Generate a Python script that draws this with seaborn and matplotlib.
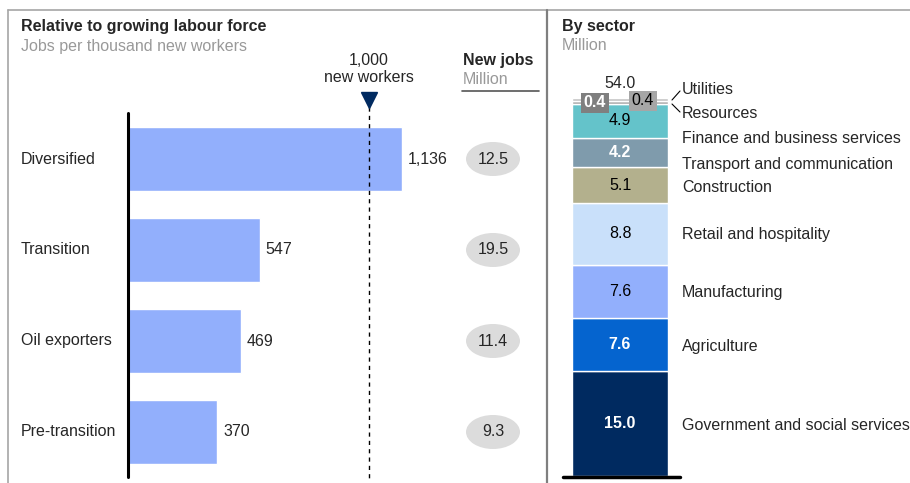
import numpy as np
import seaborn as sns
import matplotlib.pyplot as plt
import pandas as pd
from matplotlib.patches import Ellipse

groups = ['Diversified', 'Transition', 'Oil exporters', 'Pre-transition']
jobs_per_thousand = [1136, 547, 469, 370]
jobs_labels = ['1,136', '547', '469', '370']
new_jobs = [12.5, 19.5, 11.4, 9.3]

# bottom to top
sectors = ['Government and social services', 'Agriculture', 'Manufacturing',
           'Retail and hospitality', 'Construction', 'Transport and communication',
           'Finance and business services', 'Resources', 'Utilities']
sector_jobs = [15.0, 7.6, 7.6, 8.8, 5.1, 4.2, 4.9, 0.4, 0.4]
sector_colors = ['#002A60', '#0564CF', '#92AFFC', '#C9E0FA', '#B3B08D',
                 '#7F9BAC', '#64C3CA', '#A8A8A8', '#C4C4C4']
sector_label_y = [426, 347, 293, 235, 188, 164, 139, 114, 90]

sns.set_style('white')
plt.rcParams['font.family'] = ['Liberation Sans', 'DejaVu Sans']
plt.rcParams['font.size'] = 11.5

W, H = 910, 483
fig = plt.figure(figsize=(9.1, 4.83), dpi=100)

def box(x0, y0, x1, y1):
    return [x0 / W, 1 - y1 / H, (x1 - x0) / W, (y1 - y0) / H]

gray = '#999999'
navy = '#002A60'

# ---- left panel: jobs per thousand new workers
pxu = 0.241   # pixels per job unit
row = 91.0    # pixels per row
x0px, y0px = 128, 159
def lx(px): return (px - x0px) / pxu
def ly(py): return (py - y0px) / row

ax = fig.add_axes(box(8, 10, 547, 483))
df = pd.DataFrame({'group': groups, 'value': jobs_per_thousand})
sns.barplot(data=df, x='value', y='group', orient='h', color='#92AFFC',
            saturation=1, width=64 / row, ax=ax)
ax.set_xlim(lx(8), lx(547))
ax.set_ylim(ly(483), ly(10))
ax.axis('off')

ax.plot([0, 0], [ly(113), ly(477)], color='black', lw=2.2, solid_capstyle='round')
ax.plot([1000, 1000], [ly(107), ly(478)], color='black', lw=1, ls=(0, (3, 3)))
ax.plot([1000], [ly(100)], marker='v', ms=11, color=navy)
ax.text(1000, ly(69), '1,000\nnew workers', ha='center', va='center', linespacing=1.1)

for i, (v, lab, nj) in enumerate(zip(jobs_per_thousand, jobs_labels, new_jobs)):
    ax.text(lx(21), i, groups[i], ha='left', va='center')
    ax.text(v + 6 / pxu, i, lab, ha='left', va='center')
    ax.add_patch(Ellipse((lx(493), i), 54 / pxu, 34 / row, color='#DCDCDC', lw=0))
    ax.text(lx(493), i, f'{nj:.1f}', ha='center', va='center')

ax.text(lx(463), ly(60), 'New jobs', fontweight='bold', ha='left', va='center')
ax.text(lx(463), ly(79), 'Million', color=gray, ha='left', va='center')
ax.plot([lx(462), lx(539)], [ly(91), ly(91)], color='#555555', lw=1.2)

# ---- right panel: by sector
ppu = 7.0
def rx(px): return (px - 620) / 96
def ry(py): return (476 - py) / ppu

axr = fig.add_axes(box(547, 10, 910, 483))
bottoms = np.concatenate([[0], np.cumsum(sector_jobs)[:-1]])
axr.bar(0, sector_jobs, bottom=bottoms, width=1, color=sector_colors,
        edgecolor='white', linewidth=1)
axr.set_xlim(rx(547), rx(910))
axr.set_ylim(ry(483), ry(10))
axr.axis('off')
axr.plot([rx(563), rx(680)], [ry(477), ry(477)], color='black', lw=2.5,
         solid_capstyle='round')

white_lab = {'Government and social services', 'Agriculture', 'Transport and communication'}
for s, v, b in zip(sectors[:7], sector_jobs[:7], bottoms[:7]):
    w = s in white_lab
    axr.text(0, b + v / 2, f'{v:.1f}', ha='center', va='center',
             color='white' if w else 'black', fontweight='bold' if w else 'normal')

axr.text(rx(595), ry(103), f'{sector_jobs[7]:.1f}', ha='center', va='center',
         color='white', fontweight='bold',
         bbox=dict(boxstyle='square,pad=0.15', fc='#7F7F7F', ec='none'))
axr.text(rx(643), ry(101), f'{sector_jobs[8]:.1f}', ha='center', va='center',
         color='black', bbox=dict(boxstyle='square,pad=0.15', fc='#A6A6A6', ec='none'))
axr.text(0, sum(sector_jobs) + 14 / ppu, f'{sum(sector_jobs):.1f}', ha='center', va='center')

for s, y in zip(sectors, sector_label_y):
    axr.text(rx(682), ry(y), s, ha='left', va='center')
axr.plot([rx(672), rx(680)], [ry(100), ry(91)], color='black', lw=0.8)
axr.plot([rx(672), rx(680)], [ry(104), ry(112)], color='black', lw=0.8)

# ---- overlay: frame and titles
ov = fig.add_axes([0, 0, 1, 1])
ov.set_xlim(0, W)
ov.set_ylim(H, 0)
ov.axis('off')
ov.patch.set_alpha(0)
ov.plot([8, 910], [10, 10], color='#A6A6A6', lw=1.2)
ov.plot([8, 8], [10, 483], color='#A6A6A6', lw=1.2)
ov.plot([547, 547], [10, 483], color='#7F7F7F', lw=1.6)
ov.text(21, 26, 'Relative to growing labour force', fontweight='bold', va='center')
ov.text(21, 46, 'Jobs per thousand new workers', color=gray, va='center')
ov.text(562, 26, 'By sector', fontweight='bold', va='center')
ov.text(562, 46, 'Million', color=gray, va='center')

fig.savefig('out.png', dpi=100)
